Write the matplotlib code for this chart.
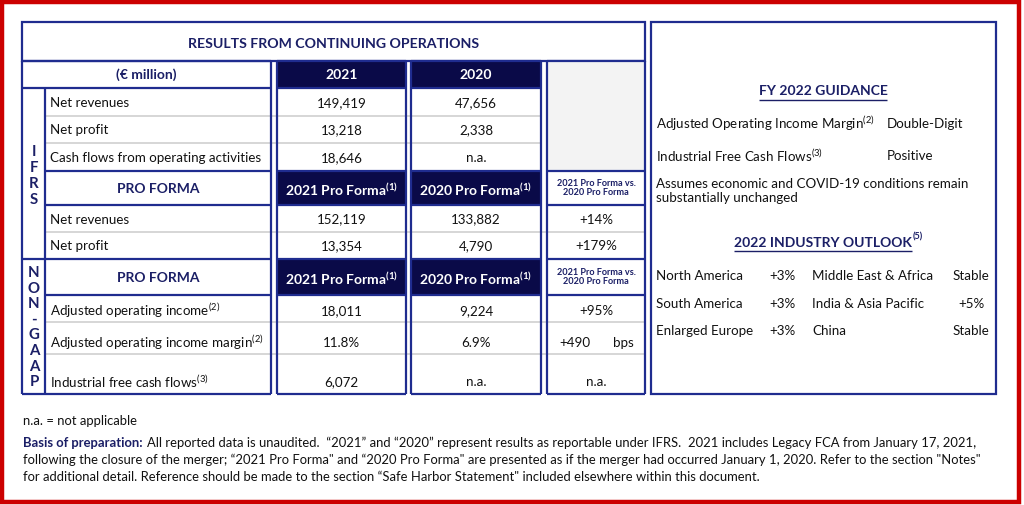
import matplotlib
matplotlib.use("Agg")
import matplotlib.pyplot as plt
from matplotlib.patches import Rectangle

plt.rcParams["font.family"] = ["Lato", "DejaVu Sans"]
plt.rcParams["mathtext.fontset"] = "custom"
plt.rcParams["mathtext.rm"] = "Lato"
plt.rcParams["mathtext.default"] = "regular"

# ---------------- data ----------------
title = "RESULTS FROM CONTINUING OPERATIONS"
unit_label = "(€ million)"
year_headers = ["2021", "2020"]
pf_headers = ["2021 Pro Forma$^{(1)}$", "2020 Pro Forma$^{(1)}$"]
change_header = "2021 Pro Forma vs.\n2020 Pro Forma"

ifrs_labels = ["Net revenues", "Net profit", "Cash flows from operating activities"]
ifrs_2021 = ["149,419", "13,218", "18,646"]
ifrs_2020 = ["47,656", "2,338", "n.a."]

pf_labels = ["Net revenues", "Net profit"]
pf_2021 = ["152,119", "13,354"]
pf_2020 = ["133,882", "4,790"]
pf_change = ["+14%", "+179%"]

ng_labels = ["Adjusted operating income$^{(2)}$",
             "Adjusted operating income margin$^{(2)}$",
             "Industrial free cash flows$^{(3)}$"]
ng_2021 = ["18,011", "11.8%", "6,072"]
ng_2020 = ["9,224", "6.9%", "n.a."]
ng_change = ["+95%", "+490", "n.a."]
ng_change_unit = ["", "bps", ""]

guidance_title = "FY 2022 GUIDANCE"
guidance_items = ["Adjusted Operating Income Margin$^{(2)}$", "Industrial Free Cash Flows$^{(3)}$"]
guidance_values = ["Double-Digit", "Positive"]
guidance_note = "Assumes economic and COVID-19 conditions remain\nsubstantially unchanged"

outlook_title = "2022 INDUSTRY OUTLOOK"
outlook_regions_a = ["North America", "South America", "Enlarged Europe"]
outlook_values_a = ["+3%", "+3%", "+3%"]
outlook_regions_b = ["Middle East & Africa", "India & Asia Pacific", "China"]
outlook_values_b = ["Stable", "+5%", "Stable"]

footnote = "n.a. = not applicable"
basis_head = "Basis of preparation:"
basis_lines = [
    "All reported data is unaudited.  \u201c2021\u201d and \u201c2020\u201d represent results as reportable under IFRS.  2021 includes Legacy FCA from January 17, 2021,",
    "following the closure of the merger; \u201c2021 Pro Forma\" and \u201c2020 Pro Forma\" are presented as if the merger had occurred January 1, 2020. Refer to the section \"Notes\"",
    "for additional detail. Reference should be made to the section \u201cSafe Harbor Statement\" included elsewhere within this document.",
]

# ---------------- style ----------------
NAVY_FILL = "#0a0a48"
BORDER = "#1f2c8f"
NAVY_TXT = "#1b1f66"
GRAY_LINE = "#cfcfcf"
GRAY_FILL = "#f3f3f3"
RED = "#cc0000"
TXT = "#111111"
FS = 9.6
FS_NOTE = 9.35

fig = plt.figure(figsize=(10.24, 5.05), dpi=100)
ax = fig.add_axes([0, 0, 1, 1])
ax.set_xlim(0, 1024)
ax.set_ylim(505, 0)
ax.axis("off")
renderer = fig.canvas.get_renderer()


def hline(y, x0, x1, color=BORDER, lw=1.6):
    ax.plot([x0, x1], [y, y], color=color, lw=lw, solid_capstyle="butt")


def vline(x, y0, y1, color=BORDER, lw=1.6):
    ax.plot([x, x], [y0, y1], color=color, lw=lw, solid_capstyle="butt")


def box(x0, y0, x1, y1, fc="none", ec=BORDER, lw=1.6):
    ax.add_patch(Rectangle((x0, y0), x1 - x0, y1 - y0, fc=fc, ec=ec, lw=lw))


def width_of(t):
    return t.get_window_extent(renderer=renderer).width


# outer red frame
box(2, 2, 1019, 502, ec=RED, lw=3.2)

# column geometry
LX0, LX1 = 22, 271
SX = 45
C1 = (277, 406)
C2 = (411, 541)
C3 = (547, 645)
Y_TOP, Y_HDR, Y_H1 = 22, 61, 88
ifrs_rows = [88, 116, 143, 171]
Y_PF0, Y_PF1 = 171, 205
pf_rows = [205, 232, 259]
Y_NG0, Y_NG1 = 259, 295
ng_rows = [295, 322, 354, 394]
Y_BOT = 394

# title row
box(LX0, Y_TOP, C3[1], Y_HDR)
ax.text((LX0 + C3[1]) / 2, 44, title, ha="center", va="center",
        fontsize=10.2, fontweight="bold", color=NAVY_TXT)

# navy header cells
for (x0, x1) in (C1, C2):
    for (y0, y1) in ((Y_HDR, Y_H1), (Y_PF0, Y_PF1), (Y_NG0, Y_NG1)):
        ax.add_patch(Rectangle((x0, y0), x1 - x0, y1 - y0, fc=NAVY_FILL, ec="none"))
ax.add_patch(Rectangle((C3[0], Y_HDR), C3[1] - C3[0], Y_PF0 - Y_HDR, fc=GRAY_FILL, ec="none"))

# gray row separators
for y in ifrs_rows[1:-1]:
    hline(y, SX, C2[1], color=GRAY_LINE, lw=1.2)
for y in pf_rows[1:-1]:
    hline(y, SX, C3[1], color=GRAY_LINE, lw=1.2)
for y in ng_rows[1:-1]:
    hline(y, SX, C3[1], color=GRAY_LINE, lw=1.2)

# column boxes
for (x0, x1) in ((LX0, LX1), C1, C2, C3):
    vline(x0, Y_HDR, Y_BOT)
    vline(x1, Y_HDR, Y_BOT)
    hline(Y_BOT, x0, x1)
    hline(Y_HDR, x0, x1)
    for y in (Y_PF0, Y_PF1, Y_NG0, Y_NG1):
        hline(y, SX if x0 == LX0 and y != Y_NG0 else x0, x1)
for (x0, x1) in ((LX0, LX1), C1, C2):
    hline(Y_H1, x0, x1)
vline(SX, Y_H1, Y_BOT)

# header texts
ax.text((LX0 + LX1) / 2, 75, unit_label, ha="center", va="center",
        fontsize=FS + 0.4, fontweight="bold", color=NAVY_TXT)
for (x0, x1), h in zip((C1, C2), year_headers):
    ax.text((x0 + x1) / 2, 75, h, ha="center", va="center",
            fontsize=FS + 0.4, fontweight="bold", color="white")
for yc in ((Y_PF0 + Y_PF1) / 2 + 2, (Y_NG0 + Y_NG1) / 2 + 2):
    ax.text((SX + LX1) / 2, yc - 1, "PRO FORMA", ha="center", va="center",
            fontsize=FS + 0.4, fontweight="bold", color=NAVY_TXT)
    for (x0, x1), h in zip((C1, C2), pf_headers):
        ax.text((x0 + x1) / 2, yc, h, ha="center", va="center",
                fontsize=FS + 0.4, fontweight="bold", color="white")
    ax.text((C3[0] + C3[1]) / 2, yc - 2, change_header, ha="center", va="center",
            fontsize=6.6, fontweight="bold", color=NAVY_TXT, linespacing=1.05)

# vertical section letters
for i, ch in enumerate("IFRS"):
    ax.text(34, 152 + i * 16, ch, ha="center", va="center",
            fontsize=10.8, fontweight="bold", color=NAVY_TXT)
for i, ch in enumerate("NON-GAAP"):
    ax.text(34, 273 + i * 15.6, ch, ha="center", va="center",
            fontsize=10.8, fontweight="bold", color=NAVY_TXT)


def fill_rows(rows, labels, v21, v20, chg=None, units=None, text_dy=None):
    for i, lab in enumerate(labels):
        yc = (rows[i] + rows[i + 1]) / 2 + 1
        if text_dy is not None:
            yc = text_dy[i]
        ax.text(50, yc, lab, ha="left", va="center", fontsize=FS, color=TXT)
        ax.text(sum(C1) / 2, yc, v21[i], ha="center", va="center", fontsize=FS, color=TXT)
        ax.text(sum(C2) / 2, yc, v20[i], ha="center", va="center", fontsize=FS, color=TXT)
        if chg is not None:
            if units is not None and units[i]:
                ax.text(575, yc, chg[i], ha="center", va="center", fontsize=FS, color=TXT)
                ax.text(623, yc, units[i], ha="center", va="center", fontsize=FS, color=TXT)
            else:
                ax.text(sum(C3) / 2, yc, chg[i], ha="center", va="center", fontsize=FS, color=TXT)


fill_rows(ifrs_rows, ifrs_labels, ifrs_2021, ifrs_2020)
fill_rows(pf_rows, pf_labels, pf_2021, pf_2020, pf_change)
fill_rows(ng_rows, ng_labels, ng_2021, ng_2020, ng_change, ng_change_unit,
          text_dy=[311, 343, 382])

# ---------------- right panel ----------------
box(651, 22, 996, Y_BOT)
PX = 656
t = ax.text(823, 91, guidance_title, ha="center", va="center",
            fontsize=FS + 0.4, fontweight="bold", color=NAVY_TXT)
w = width_of(t)
hline(100, 823 - w / 2, 823 + w / 2, color=NAVY_TXT, lw=1.0)
for i, (item, val) in enumerate(zip(guidance_items, guidance_values)):
    ax.text(PX, 124 + i * 32, item, ha="left", va="center", fontsize=FS, color=TXT)
    ax.text(887, 124 + i * 32, val, ha="left", va="center", fontsize=FS, color=TXT)
ax.text(PX, 191, guidance_note, ha="left", va="center", fontsize=FS, color=TXT,
        linespacing=1.25)

t = ax.text(823, 243, outlook_title, ha="center", va="center",
            fontsize=FS + 0.4, fontweight="bold", color=NAVY_TXT)
w = width_of(t)
hline(251, 823 - w / 2, 823 + w / 2, color=NAVY_TXT, lw=1.0)
ax.text(823 + w / 2 + 1, 237, "(5)", ha="left", va="center",
        fontsize=6.5, fontweight="bold", color=NAVY_TXT)
for i in range(len(outlook_regions_a)):
    yc = 276 + i * 27.5
    ax.text(PX, yc, outlook_regions_a[i], ha="left", va="center", fontsize=FS, color=TXT)
    ax.text(769, yc, outlook_values_a[i], ha="left", va="center", fontsize=FS, color=TXT)
    ax.text(812, yc, outlook_regions_b[i], ha="left", va="center", fontsize=FS, color=TXT)
    ax.text(971, yc, outlook_values_b[i], ha="center", va="center", fontsize=FS, color=TXT)

# ---------------- footnotes ----------------
ax.text(23, 421, footnote, ha="left", va="center", fontsize=FS_NOTE, color=TXT)
t = ax.text(23, 443, basis_head, ha="left", va="center", fontsize=FS_NOTE,
            fontweight="bold", color=NAVY_TXT)
w = width_of(t)
ax.text(23 + w + 4, 443, basis_lines[0], ha="left", va="center", fontsize=FS_NOTE, color=TXT)
ax.text(23, 460, basis_lines[1], ha="left", va="center", fontsize=FS_NOTE, color=TXT)
ax.text(23, 477, basis_lines[2], ha="left", va="center", fontsize=FS_NOTE, color=TXT)

fig.savefig("out.png", dpi=100)
